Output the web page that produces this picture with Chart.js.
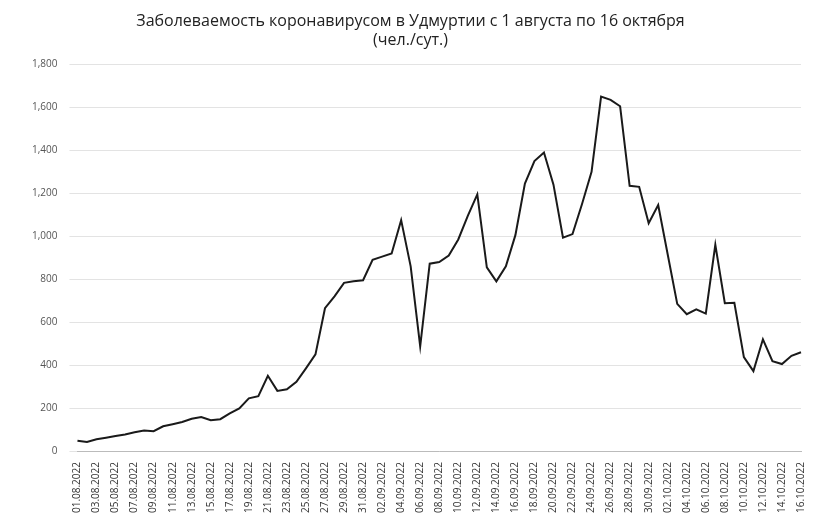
<!DOCTYPE html>
<html>
<head>
<meta charset="utf-8">
<script src="https://cdn.jsdelivr.net/npm/chart.js@4/dist/chart.umd.min.js"></script>
<style>
  html, body { margin: 0; padding: 0; background: #fff; }
  #wrap { width: 831px; height: 520px; }
</style>
</head>
<body>
<div id="wrap"><canvas id="covidChart"></canvas></div>
<script>
// daily cases, 01.08.2022 - 16.10.2022
const augValues = [48, 42, 55, 62, 70, 77, 87, 95, 92, 115, 125, 135, 150, 158, 143, 148,
    175, 198, 245, 255, 350, 280, 287, 322, 385, 450, 665, 720, 783, 790, 795];
const sepValues = [890, 905, 920, 1075, 860, 487, 872, 880, 910, 985, 1095, 1195, 855, 790, 860,
    1005, 1245, 1350, 1390, 1240, 993, 1010, 1150, 1300, 1650, 1635, 1605, 1235, 1230, 1060];
const octValues = [1145, 915, 685, 637, 660, 640, 960, 688, 690, 437, 372, 520, 418, 405, 443, 460];
const yTicks = [0, 200, 400, 600, 800, 1000, 1200, 1400, 1600, 1800];

function makeDates(month, count) {
    const out = [];
    for (let d = 1; d <= count; d++) {
        out.push(String(d).padStart(2, '0') + '.' + month + '.2022');
    }
    return out;
}
const dates = [].concat(makeDates('08', 31), makeDates('09', 30), makeDates('10', 16));
const cases = [].concat(augValues, sepValues, octValues);

new Chart(document.getElementById('covidChart'), {
    type: 'line',
    data: {
        labels: dates,
        datasets: [{
            data: cases,
            borderColor: '#1a1a1a',
            borderWidth: 2,
            pointRadius: 0,
            tension: 0
        }]
    },
    options: {
        responsive: true,
        maintainAspectRatio: false,
        animation: false,
        layout: { padding: { left: 20, right: 30, top: 8, bottom: 4 } },
        plugins: {
            legend: { display: false },
            tooltip: { enabled: false },
            title: {
                display: true,
                text: ['Заболеваемость коронавирусом в Удмуртии с 1 августа по 16 октября', '(чел./сут.)'],
                color: '#222',
                font: { family: 'Open Sans', size: 16, weight: 'normal' },
                padding: { top: 4, bottom: 14 }
            }
        },
        scales: {
            x: {
                grid: { display: false },
                border: { color: '#bbb' },
                ticks: {
                    color: '#333',
                    font: { family: 'Open Sans', size: 10 },
                    maxRotation: 90,
                    minRotation: 90,
                    autoSkip: false,
                    callback: function(val, i) { return i % 2 === 0 ? this.getLabelForValue(val) : ''; }
                }
            },
            y: {
                min: 0,
                max: 1800,
                afterBuildTicks: function(axis) { axis.ticks = yTicks.map(v => ({ value: v })); },
                grid: { color: '#e3e3e3' },
                border: { display: false },
                ticks: {
                    color: '#555',
                    padding: 12,
                    font: { family: 'Open Sans', size: 10 }
                }
            }
        }
    }
});
</script>
</body>
</html>
